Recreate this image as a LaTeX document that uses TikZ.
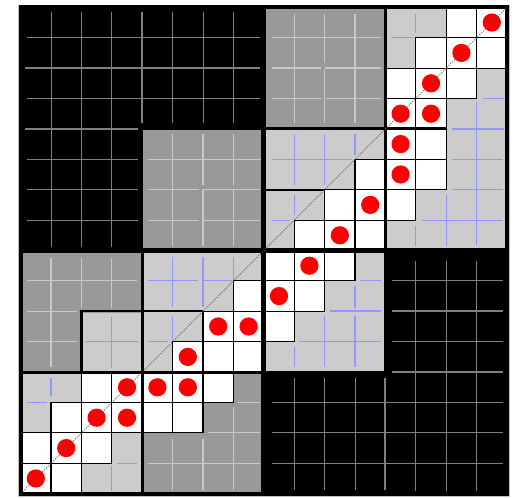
\documentclass[tikz,border=0pt]{standalone}
\definecolor{dg}{RGB}{153,153,153}
\definecolor{lg}{RGB}{204,204,204}
\definecolor{glc}{RGB}{128,128,128}
\definecolor{dlc}{RGB}{200,200,200}
\definecolor{blc}{RGB}{150,150,255}
\begin{document}
\begin{tikzpicture}[x=1cm,y=-1cm,
  gline/.style={draw=glc,line width=0.9pt},
  gthick/.style={draw=glc,line width=1.8pt},
  dline/.style={draw=dlc,line width=1.1pt},
  dthick/.style={draw=dlc,line width=1.8pt},
  bline/.style={draw=blc,line width=1.1pt},
  bthick/.style={draw=blc,line width=2pt},
  cellw/.style={fill=white,draw=black,line width=1.1pt},
  gapq/.style={draw=black,line width=4.6pt},
  gapb/.style={draw=black,line width=2.8pt},
  gaps/.style={draw=black,line width=2.2pt},
  diag/.style={draw=black!65,line width=0.7pt,dash pattern=on 1.2pt off 1.2pt}]
\useasboundingbox (-0.678,-0.240) rectangle (16.296,16.141);
\fill[white] (-0.678,-0.240) rectangle (16.296,16.141);
\draw[fill=black,draw=black!25,line width=0.5pt] (-0.07,-0.06) rectangle (16.06,16.09);
% block fills
\fill[dg] (4.04,4.04) rectangle (7.96,7.96);
\fill[dg] (8.04,0.04) rectangle (11.96,3.96);
\fill[lg] (8.04,4.04) rectangle (11.96,7.96);
\fill[lg] (12.04,0.04) rectangle (15.96,7.96);
\fill[dg] (0.04,8.04) rectangle (3.96,11.96);
\fill[lg] (2.04,10.04) rectangle (3.96,11.96);
\fill[lg] (4.04,8.04) rectangle (7.96,11.96);
\fill[lg] (0.04,12.04) rectangle (3.96,15.96);
\fill[dg] (4.04,12.04) rectangle (7.96,15.96);
\fill[lg] (8.04,8.04) rectangle (11.96,11.96);
% top-left black region
\foreach \c in {1,2,3} \draw[gline] (\c,0.16) -- (\c,7.88);
\draw[gthick] (4,0.16) -- (4,3.82);
\foreach \c in {5,6,7} \draw[gline] (\c,0.16) -- (\c,3.82);
\foreach \r in {1,3} \draw[gline] (0.2,\r) -- (7.88,\r);
\draw[gthick] (0.15,2) -- (7.88,2);
\draw[gthick] (0.15,4) -- (3.86,4);
\foreach \r in {5,6,7} \draw[gline] (0.2,\r) -- (3.86,\r);
% bottom-right black region
\foreach \c in {13,14,15} \draw[gline] (\c,8.35) -- (\c,15.9);
\foreach \c in {9,10,11} \draw[gline] (\c,12.2) -- (\c,15.87);
\draw[gthick] (12,12.2) -- (12,15.87);
\foreach \r in {9,11} \draw[gline] (12.22,\r) -- (15.88,\r);
\foreach \r in {10,12} \draw[gthick] (12.22,\r) -- (15.88,\r);
\foreach \r in {13,14,15} \draw[gline] (8.27,\r) -- (15.88,\r);
% dark gray r4-7 c4-7
\draw[dline] (5,4.17) -- (5,7.85);
\draw[dthick] (6,4.17) -- (6,5.85) (6,6.0) -- (6,7.85);
\draw[dline] (7,4.17) -- (7,5.85) (7,6.0) -- (7,7.85);
\draw[dline] (4.18,5) -- (7.9,5);
\draw[dline] (4.18,6) -- (5.87,6) (6,6) -- (7.88,6);
\draw[dline] (4.18,7) -- (5.87,7) (6,7) -- (7.88,7);
% dark gray r0-3 c8-11
\draw[dline] (9,0.22) -- (9,3.82);
\draw[dline] (10,0.22) -- (10,1.84) (10,2.03) -- (10,3.82);
\draw[dline] (11,0.22) -- (11,3.82);
\draw[dline] (8.26,1) -- (11.86,1);
\draw[dthick] (8.26,2) -- (9.87,2) (10.01,2) -- (11.86,2);
\draw[dline] (8.26,3) -- (9.87,3) (10.05,3) -- (11.86,3);
% dark gray r8-11 c0-3
\draw[dline] (1,8.26) -- (1,11.82);
\draw[dline] (2,8.26) -- (2,9.9);
\draw[dline] (3,8.26) -- (3,9.9);
\draw[dline] (0.2,9) -- (3.82,9);
\draw[dline] (0.2,10) -- (1.85,10);
\draw[dline] (0.2,11) -- (1.85,11);
\draw[bline] (3,10.18) -- (3,11.88);
\draw[bline] (2.15,11) -- (3.87,11);
% dark gray r12-15 c4-7
\draw[dline] (5,14.2) -- (5,15.87);
\draw[dline] (6,14.2) -- (6,15.87);
\draw[dline] (7,13.15) -- (7,15.87);
\draw[dline] (7.15,13) -- (7.87,13);
\draw[dline] (6.15,14) -- (7.87,14);
\draw[dline] (4.2,15) -- (7.87,15);
% light gray r4-7 c8-11
\draw[bline] (9,4.17) -- (9,5.85);
\draw[bline] (10,4.17) -- (10,5.85);
\draw[bline] (11,4.17) -- (11,4.86);
\draw[bline] (8.26,5) -- (10.89,5);
\draw[bline] (9,6.17) -- (9,6.83);
\draw[bline] (8.26,7) -- (8.86,7);
% light gray r8-11 c4-7
\draw[bline] (5,8.2) -- (5,9.85);
\draw[bthick] (6,8.2) -- (6,9.85);
\draw[bline] (7,8.2) -- (7,8.97);
\draw[bline] (4.2,9) -- (5.85,9) (6,9) -- (6.97,9);
\draw[bline] (5,10.18) -- (5,10.95);
\draw[bline] (4.2,11) -- (4.86,11);
% light gray r8-11 c8-11
\draw[bline] (11.18,9) -- (11.86,9);
\draw[bline] (11,9.18) -- (11,9.89);
\draw[bthick] (10.18,10) -- (11.86,10);
\draw[bline] (10,10.17) -- (10,11.84);
\draw[bline] (11,10.17) -- (11,11.84);
\draw[bline] (9.17,11) -- (11.86,11);
\draw[bline] (9,11.18) -- (9,11.84);
% light gray r0-7 c12-15
\draw[bline] (13,0.22) -- (13,0.86);
\draw[bline] (12.18,1) -- (12.9,1);
\draw[bline] (15.2,3) -- (15.9,3);
\draw[bline] (15,3.1) -- (15,7.82);
\draw[bthick] (14.2,4) -- (15.9,4);
\draw[bline] (14.2,5) -- (15.88,5);
\draw[bline] (14.2,6) -- (15.88,6);
\draw[bline] (14,6.17) -- (14,7.86);
\draw[bline] (13.2,7) -- (15.88,7);
\draw[bline] (13,7.2) -- (13,7.86);
% light gray r12-15 c0-3
\draw[bline] (1,12.2) -- (1,12.8);
\draw[bline] (0.2,13) -- (0.86,13);
\draw[bline] (3,15.1) -- (3,15.9);
\draw[bline] (3.16,15) -- (3.82,15);
% white cells
\foreach \r/\c in {0/14,0/15,1/13,1/14,1/15,2/12,2/13,2/14,3/12,3/13,4/12,4/13,
  5/11,5/12,5/13,6/10,6/11,6/12,7/9,7/10,7/11,8/8,8/9,8/10,9/7,9/8,9/9,
  10/6,10/7,10/8,11/5,11/6,11/7,12/2,12/3,12/4,12/5,12/6,13/1,13/2,13/3,13/4,13/5,
  14/0,14/1,14/2,15/0,15/1}
  \draw[cellw] (\c,\r) rectangle +(1,1);
% black separators
\draw[gapq] (8,-0.05) -- (8,16.05);
\draw[gapq] (-0.05,8) -- (16.05,8);
\draw[gapb] (12,0) -- (12,8);
\draw[gapb] (8,4) -- (14,4);
\draw[gapb] (4,8) -- (4,16);
\draw[gapb] (0,12) -- (8,12);
\draw[gaps] (2,12) -- (2,10) -- (4,10);
\draw[gaps] (8,6) -- (10,6);
\draw[gaps] (4,10) -- (6,10);
\draw[black,line width=3.6pt] (0,0) rectangle (16,16);
% red dots
\foreach \r/\c in {0/15,1/14,2/13,3/12,3/13,4/12,5/12,6/11,7/10,8/9,9/8,10/6,10/7,
  11/5,12/3,12/4,12/5,13/2,13/3,14/1,15/0}
  \fill[red] (\c+0.5,\r+0.5) circle (0.3);
% diagonal
\draw[diag] (0,16) -- (16,0);
\end{tikzpicture}
\end{document}
